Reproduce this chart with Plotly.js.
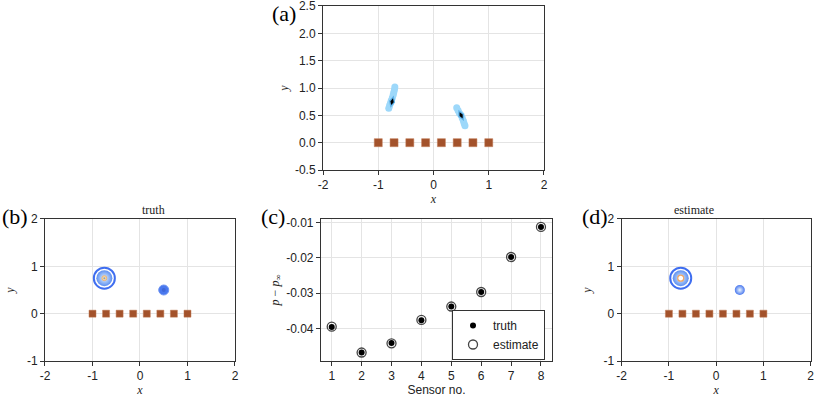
<!DOCTYPE html>
<html>
<head>
<meta charset="utf-8">
<script src="https://cdn.plot.ly/plotly-3.0.1.min.js"></script>
<style>
  body { margin: 0; background: #fff; }
  #plot { width: 830px; height: 405px; }
</style>
</head>
<body>
<div id="plot"></div>
<script>
// sensors along the wall
const sensorX = [-1, -0.714, -0.429, -0.143, 0.143, 0.429, 0.714, 1];
const sensorY = [0, 0, 0, 0, 0, 0, 0, 0];

// vortex positions (strong one, weak one)
const vortexX = [-0.75, 0.5];
const vortexY = [0.75, 0.5];

// posterior samples
const blob1X = [-0.81, -0.795, -0.78, -0.765, -0.745, -0.73, -0.72, -0.707, -0.70];
const blob1Y = [0.63, 0.68, 0.72, 0.77, 0.82, 0.87, 0.92, 0.97, 1.02];
const blob2X = [0.42, 0.445, 0.47, 0.50, 0.52, 0.54, 0.555, 0.57];
const blob2Y = [0.64, 0.59, 0.54, 0.50, 0.45, 0.40, 0.35, 0.31];

// pressure at the sensors
const sensorNo = [1, 2, 3, 4, 5, 6, 7, 8];
const pTruth = [-0.0396, -0.0468, -0.0441, -0.0377, -0.0338, -0.0297, -0.0198, -0.0113];
const pEstimate = [-0.0395, -0.0468, -0.0442, -0.0376, -0.0338, -0.0297, -0.0198, -0.0113];

// tick labels
const xTicks = [-2, -1, 0, 1, 2];
const xTickText = ['-2', '-1', '0', '1', '2'];
const yTicksA = [-0.5, 0, 0.5, 1, 1.5, 2, 2.5];
const yTickTextA = ['-0.5', '0.0', '0.5', '1.0', '1.5', '2.0', '2.5'];
const yTicksB = [-1, 0, 1, 2];
const yTickTextB = ['-1', '0', '1', '2'];
const pTicks = [-0.04, -0.03, -0.02, -0.01];
const pTickText = ['-0.04', '-0.03', '-0.02', '-0.01'];

const sans = 'Liberation Sans, Arial, Helvetica, sans-serif';
const serif = 'Liberation Serif, Times New Roman, serif';
const sienna = '#a3522b';

function sensors(xa, ya, size) {
  return {x: sensorX, y: sensorY, xaxis: xa, yaxis: ya, mode: 'markers', type: 'scatter',
    showlegend: false, hoverinfo: 'skip',
    marker: {symbol: 'square', size: size, color: sienna, line: {color: '#c07a55', width: 0.5}}};
}

function dot(i, xa, ya, marker) {
  return {x: [vortexX[i]], y: [vortexY[i]], xaxis: xa, yaxis: ya, mode: 'markers',
    type: 'scatter', showlegend: false, hoverinfo: 'skip', marker: marker};
}

let data = [];

// (a) posterior
data.push({x: blob1X, y: blob1Y, mode: 'markers', type: 'scatter', showlegend: false,
  marker: {size: 7, color: '#9dd8fa'}});
data.push({x: blob2X, y: blob2Y, mode: 'markers', type: 'scatter', showlegend: false,
  marker: {size: 7, color: '#9dd8fa'}});
data.push({x: vortexX, y: vortexY, mode: 'markers', type: 'scatter', showlegend: false,
  marker: {symbol: 'diamond-tall', size: 9, color: '#5fb2ea', angle: [15, -26]}});
data.push({x: vortexX, y: vortexY, mode: 'markers', type: 'scatter', showlegend: false,
  marker: {symbol: 'diamond-tall', size: 5, color: '#000', angle: [15, -26]}});
data.push(sensors('x', 'y', 8));

// (b) truth and (d) estimate
[['x2', 'y2', 'truth'], ['x4', 'y4', 'estimate']].forEach(function (p) {
  const xa = p[0], ya = p[1];
  data.push(dot(0, xa, ya, {size: 21, color: 'white', line: {color: '#3f6ef0', width: 2}}));
  data.push(dot(0, xa, ya, {size: 16, color: '#5d8ef0', gradient: {type: 'radial', color: '#dff3ff'}}));
  if (p[2] === 'truth') {
    data.push(dot(0, xa, ya, {size: 5, color: '#f6dca0', line: {color: '#eab27c', width: 1}}));
    data.push(dot(0, xa, ya, {size: 2, color: '#8a9fc8'}));
    data.push(dot(1, xa, ya, {size: 10, color: '#4a78ee', line: {color: '#6f95f2', width: 1}}));
    data.push(dot(1, xa, ya, {size: 4, color: '#3f67d8'}));
  } else {
    data.push(dot(0, xa, ya, {size: 6, color: 'white', line: {color: '#f0a766', width: 1.3}}));
    data.push(dot(1, xa, ya, {size: 10, color: '#4a78ee', gradient: {type: 'radial', color: '#eaf6ff'}}));
  }
  data.push(sensors(xa, ya, 7));
});

// (c) sensor pressure
data.push({x: sensorNo, y: pTruth, xaxis: 'x3', yaxis: 'y3', mode: 'markers', type: 'scatter',
  name: 'truth', marker: {size: 6, color: '#000'}});
data.push({x: sensorNo, y: pEstimate, xaxis: 'x3', yaxis: 'y3', mode: 'markers', type: 'scatter',
  name: 'estimate', marker: {symbol: 'circle-open', size: 9, color: '#444', line: {width: 1.3}}});

function axis(domain, range, vals, text, anchor, title, standoff) {
  return {
    domain: domain, range: range, anchor: anchor, tickvals: vals, ticktext: text,
    showline: true, mirror: true, linecolor: '#333', linewidth: 1,
    ticks: 'outside', ticklen: 4, tickcolor: '#333', tickwidth: 1,
    showgrid: true, gridcolor: '#e4e4e4', zeroline: false,
    ticklabeloverflow: 'allow',
    tickfont: {family: sans, size: 12, color: '#222'},
    title: {text: title, standoff: standoff, font: {family: serif, size: 12, color: '#222'}}
  };
}

const rowY = [0.1086, 0.4593];

let layout = {
  width: 830, height: 405,
  margin: {l: 0, r: 0, t: 0, b: 0},
  paper_bgcolor: 'white', plot_bgcolor: 'white',
  xaxis: axis([0.3892, 0.6554], [-2, 2], xTicks, xTickText, 'y', '<i>x</i>', 1),
  yaxis: axis([0.5802, 0.9852], [-0.5, 2.5], yTicksA, yTickTextA, 'x', '<i>y</i>', 3),
  xaxis2: axis([0.0542, 0.2831], [-2, 2], xTicks, xTickText, 'y2', '<i>x</i>', 1),
  yaxis2: axis(rowY, [-1, 2], yTicksB, yTickTextB, 'x2', '<i>y</i>', 9),
  xaxis3: axis([0.3867, 0.6651], [0.64, 8.37], sensorNo, sensorNo.map(String), 'y3', 'Sensor no.', 2),
  yaxis3: axis(rowY, [-0.0492, -0.00906], pTicks, pTickText, 'x3', '<i>p</i> − <i>p</i><sub>∞</sub>', 4),
  xaxis4: axis([0.749, 0.9767], [-2, 2], xTicks, xTickText, 'y4', '<i>x</i>', 1),
  yaxis4: axis(rowY, [-1, 2], yTicksB, yTickTextB, 'x4', '<i>y</i>', 9),
  legend: {x: 545 / 830, y: 1 - 310 / 405, xanchor: 'right', yanchor: 'top',
    bgcolor: 'white', bordercolor: '#333', borderwidth: 1,
    font: {family: sans, size: 12, color: '#222'}, itemwidth: 30, tracegroupgap: 2},
  annotations: [
    {text: '(a)', x: 298, y: -1},
    {text: '(b)', x: 30, y: 202},
    {text: '(c)', x: 287, y: 202},
    {text: '(d)', x: 610, y: 202}
  ].map(function (a) {
    return {text: a.text, xref: 'paper', yref: 'paper', x: a.x / 830, y: 1 - a.y / 405,
      xanchor: 'right', yanchor: 'top', showarrow: false,
      font: {family: serif, size: 22, color: '#000'}};
  }).concat([
    {text: 'truth', xref: 'paper', yref: 'paper', x: 0.1687, y: 0.4593, yanchor: 'bottom',
      showarrow: false, font: {family: serif, size: 12, color: '#222'}},
    {text: 'estimate', xref: 'paper', yref: 'paper', x: 0.8629, y: 0.4593, yanchor: 'bottom',
      showarrow: false, font: {family: serif, size: 12, color: '#222'}}
  ])
};
layout.xaxis3.title.font = {family: sans, size: 12, color: '#222'};

Plotly.newPlot('plot', data, layout, {displayModeBar: false, staticPlot: true});
</script>
</body>
</html>
